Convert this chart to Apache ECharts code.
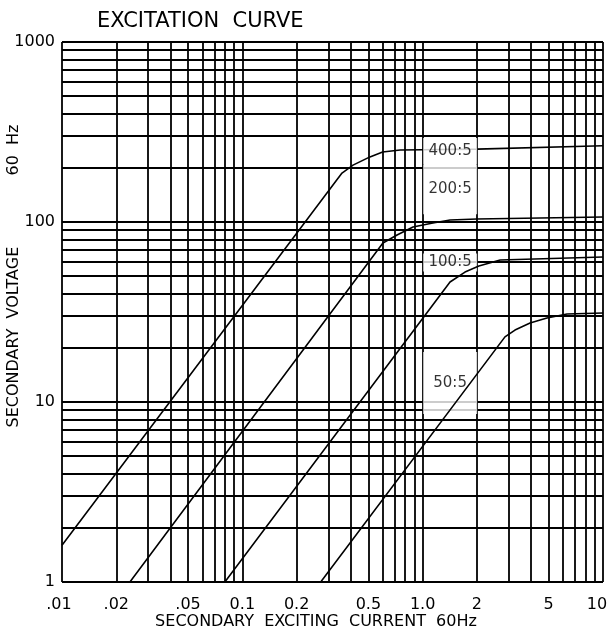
<!DOCTYPE html>
<html><head><meta charset="utf-8">
<script src="https://cdn.jsdelivr.net/npm/echarts@6/dist/echarts.min.js"></script>
<style>html,body{margin:0;padding:0;background:#fff}#c{width:609px;height:634px}</style>
</head><body><div id="c"></div>
<script>
const chartTitle = 'EXCITATION  CURVE';
const xAxisTitle = 'SECONDARY  EXCITING  CURRENT  60Hz';
const yAxisTitle = 'SECONDARY  VOLTAGE              60  Hz';

const xTickValues = [0.01, 0.02, 0.05, 0.1, 0.2, 0.5, 1, 2, 5, 10];
const xTickLabels = ['.01', '.02', '.05', '0.1', '0.2', '0.5', '1.0', '2', '5', '10'];
const yTickValues = [1, 10, 100, 1000];
const yTickLabels = ['1', '10', '100', '1000'];

const gridMantissas = [1, 2, 3, 4, 5, 6, 7, 8, 9];
const xDecades = [0.01, 0.1, 1];
const yDecades = [1, 10, 100];

const ratioNames = ['400:5', '200:5', '100:5', '50:5'];
const curve400 = [[0.01, 1.6], [0.357, 187], [0.411, 207], [0.51, 230], [0.60, 245], [0.75, 251], [1.0, 252], [2, 254], [10, 265]];
const curve200 = [[0.0238, 1], [0.602, 76.4], [0.721, 84.7], [0.884, 93.8], [1.14, 98.7], [1.42, 102.6], [2, 104], [10, 106.6]];
const curve100 = [[0.080, 1], [1.418, 46.4], [1.717, 52.7], [2.05, 57], [2.69, 61.5], [10, 63.9]];
const curve50 = [[0.272, 1], [2.86, 23.0], [3.25, 25.1], [3.94, 27.5], [4.89, 29.3], [6.32, 30.8], [10, 31.2]];
// label anchor points (data coords) for the ratio tags
const ratioLabelAt = [[1.42, 248], [1.42, 152], [1.42, 59.6], [1.42, 12.75]];

const FONT = 'DejaVu Sans';
const INK = '#000';
const GRID_W = 1.8;
const edgeNudge = { '.01': -3, '10': -6 };

function expand(decades, last) {
  const out = [];
  decades.forEach(d => gridMantissas.forEach(m => out.push(+(d * m).toPrecision(6))));
  out.push(last);
  return out;
}
const xGridValues = expand(xDecades, 10);
const yGridValues = expand(yDecades, 1000);

function findLabel(v) {
  for (let i = 0; i < xTickValues.length; i++) {
    if (Math.abs(Math.log10(v / xTickValues[i])) < 1e-6) return xTickLabels[i];
  }
  return null;
}

const gridLineData = [];
xGridValues.forEach(v => {
  const t = findLabel(v);
  const item = { xAxis: v };
  if (t !== null) {
    item.label = { show: true, position: 'start', formatter: t, distance: 15,
      offset: [edgeNudge[t] || 0, 0],
      fontSize: 16, fontFamily: FONT, color: INK };
  }
  gridLineData.push(item);
});
yGridValues.forEach(v => gridLineData.push({ yAxis: v }));

const curves = [curve400, curve200, curve100, curve50];

const labelPads = [[5, 5, 5, 5], [34, 5, 0, 5], [1, 5, 1, 5], [21, 5, 25, 5]];

function labelSeries(indices, z) {
  return {
    type: 'scatter', z: z, silent: true, symbolSize: 1,
    itemStyle: { color: 'rgba(0,0,0,0)' },
    data: indices.map(i => ({
      name: ratioNames[i], value: ratioLabelAt[i],
      label: { padding: labelPads[i] }
    })),
    label: {
      show: true, position: 'inside', formatter: '{b}', width: 44, align: 'center',
      lineHeight: 16, fontSize: 15, fontFamily: FONT, color: INK,
      backgroundColor: '#fff'
    },
    emphasis: { disabled: true }
  };
}

const series = [
  {
    type: 'line', z: 1, silent: true, data: [], symbol: 'none',
    markLine: {
      z: 1, silent: true, symbol: ['none', 'none'], animation: false,
      label: { show: false },
      lineStyle: { color: INK, width: GRID_W, type: 'solid' },
      emphasis: { disabled: true },
      data: gridLineData
    }
  },
  labelSeries([1, 2, 3], 2),
  labelSeries([0], 10)
];
curves.forEach((c, i) => series.push({
  type: 'line', name: ratioNames[i], z: 3, data: c, symbol: 'none', silent: true,
  lineStyle: { color: INK, width: 1.6 }, emphasis: { disabled: true }
}));

const chart = echarts.init(document.getElementById('c'), null, { renderer: 'canvas' });
chart.setOption({
  animation: false,
  backgroundColor: '#fff',
  title: {
    text: chartTitle, left: 92, top: 6,
    textStyle: { fontFamily: FONT, fontSize: 21, fontWeight: 'normal', color: INK }
  },
  grid: { left: 62, right: 6, top: 42, bottom: 52, outerBoundsMode: 'none' },
  xAxis: {
    type: 'log', logBase: 10, min: 0.01, max: 10,
    axisLine: { show: false }, axisTick: { show: false },
    axisLabel: { show: false }, splitLine: { show: false }
  },
  yAxis: {
    type: 'log', logBase: 10, min: 1, max: 1000,
    axisLine: { show: false }, axisTick: { show: false },
    splitLine: { show: false },
    axisLabel: {
      show: true, margin: 7, fontSize: 16, fontFamily: FONT, color: INK,
      formatter: v => {
        for (let i = 0; i < yTickValues.length; i++) {
          if (Math.abs(Math.log10(v / yTickValues[i])) < 1e-6) return yTickLabels[i];
        }
        return '';
      }
    }
  },
  graphic: [
    { type: 'text', x: 316, y: 622, silent: true,
      style: { text: xAxisTitle, font: '16px "DejaVu Sans"', fill: INK, align: 'center', verticalAlign: 'middle' } },
    { type: 'text', x: 14, y: 276, rotation: Math.PI / 2, silent: true,
      style: { text: yAxisTitle, font: '16px "DejaVu Sans"', fill: INK, align: 'center', verticalAlign: 'middle' } }
  ],
  series: series
});
</script></body></html>
